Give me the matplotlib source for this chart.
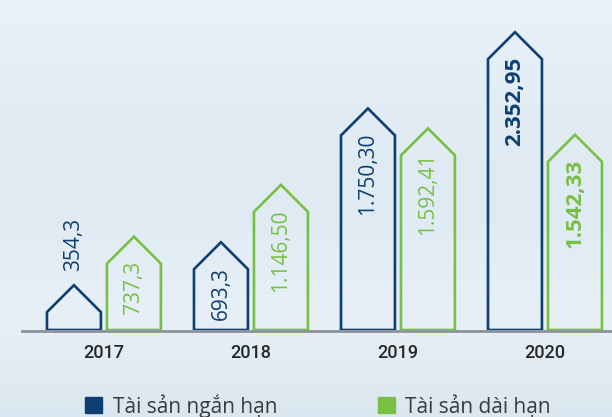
import numpy as np
import matplotlib.pyplot as plt
from matplotlib.patches import Polygon
from matplotlib.colors import LinearSegmentedColormap

# Số liệu (tỷ đồng)
nam = ['2017', '2018', '2019', '2020']
ngan_han = [354.3, 693.3, 1750.30, 2352.95]
dai_han = [737.3, 1146.50, 1592.41, 1542.33]
nhan_ngan_han = ['354,3', '693,3', '1.750,30', '2.352,95']
nhan_dai_han = ['737,3', '1.146,50', '1.592,41', '1.542,33']

mau_xanh = '#0d3f72'
mau_la = '#77c043'
mau_chu = '#262626'

fig = plt.figure(figsize=(6.12, 4.17), dpi=100)

# nền chuyển màu nhạt
bg = fig.add_axes([0, 0, 1, 1])
grad = np.linspace(0, 1, 256).reshape(-1, 1)
cmap = LinearSegmentedColormap.from_list('bg', ['#e9f2f9', '#e1ecf5', '#dfeaf3', '#e7f0f7', '#dbe7f0'])
bg.imshow(grad, aspect='auto', cmap=cmap, extent=[0, 1, 0, 1])
bg.axis('off')

ax = fig.add_axes([0, 87 / 417, 1, 330 / 417])
ax.set_facecolor('none')
ax.set_xlim(-0.707, 3.456)
ax.set_ylim(0, 2607)
ax.axis('off')

x = np.arange(len(nam))
rong = 0.367
lech = 0.204
mai = 213  # chiều cao phần mái

def ve_nha(cx, v, mau):
    l, r = cx - rong / 2, cx + rong / 2
    pts = [(l, 0), (l, v - mai), (cx, v), (r, v - mai), (r, 0)]
    ax.add_patch(Polygon(pts, closed=True, facecolor='none', edgecolor=mau,
                         linewidth=1.9, joinstyle='miter', zorder=3))

ax.axhline(-10, xmin=22 / 612, color='#8c9196', linewidth=2, zorder=2, clip_on=False)

for i in range(len(nam)):
    dam = 'bold' if i == 3 else 'normal'
    co = 16 if i == 3 else 15
    ve_nha(x[i] - lech, ngan_han[i], mau_xanh)
    ve_nha(x[i] + lech, dai_han[i], mau_la)
    if ngan_han[i] < 500:
        ax.text(x[i] - lech, ngan_han[i] + 110, nhan_ngan_han[i], rotation=90,
                ha='center', va='bottom', color=mau_xanh, fontsize=co,
                family='Open Sans', fontweight=dam)
    else:
        ax.text(x[i] - lech, ngan_han[i] - mai + 20, nhan_ngan_han[i], rotation=90,
                ha='center', va='top', color=mau_xanh, fontsize=co,
                family='Open Sans', fontweight=dam)
    ax.text(x[i] + lech, dai_han[i] - mai + 20, nhan_dai_han[i], rotation=90,
            ha='center', va='top', color=mau_la, fontsize=co,
            family='Open Sans', fontweight=dam)
    ax.text(x[i], -180, nam[i], ha='center', va='center', color=mau_chu,
            fontsize=13, family='Roboto', fontweight='medium')

# chú thích
fig.patches.append(plt.Rectangle((85 / 612, 4 / 417), 17 / 612, 16 / 417,
                                 transform=fig.transFigure, color=mau_xanh))
fig.text(113 / 612, 4 / 417, 'Tài sản ngắn hạn', ha='left', va='baseline',
         fontsize=15, color='#3a3a3a', family='Open Sans')
fig.patches.append(plt.Rectangle((378 / 612, 4 / 417), 17 / 612, 16 / 417,
                                 transform=fig.transFigure, color=mau_la))
fig.text(405 / 612, 4 / 417, 'Tài sản dài hạn', ha='left', va='baseline',
         fontsize=15, color='#3a3a3a', family='Open Sans')

fig.savefig('out.png', dpi=100)
